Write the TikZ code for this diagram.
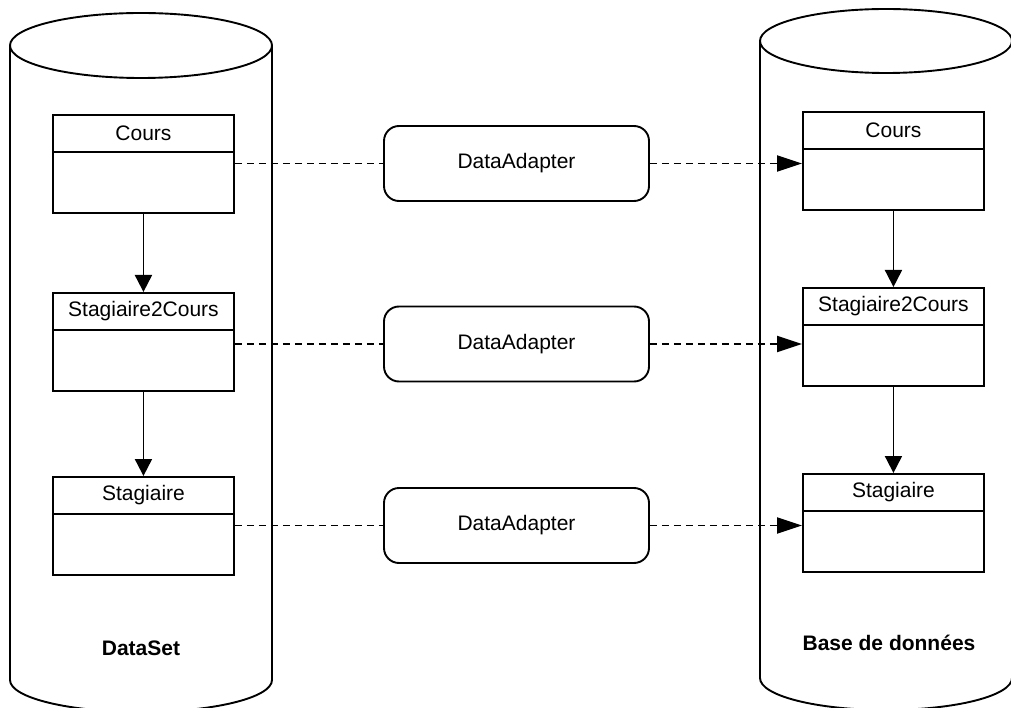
\documentclass[tikz,border=0pt]{standalone}
\usepackage{fontspec}
\setmainfont{Liberation Sans}
\usetikzlibrary{arrows.meta}
\newcommand\lblfont{\fontsize{21}{25}\selectfont}
\begin{document}
\begin{tikzpicture}[x=1pt,y=-1pt,
  tbl/.style={draw, line width=1.9pt, minimum width=181pt, minimum height=98pt, inner sep=0pt, anchor=north west},
  tblhead/.style={minimum width=181pt, minimum height=38pt, inner sep=0pt, anchor=north, font=\lblfont},
  adapter/.style={draw, rounded corners=15pt, line width=1.9pt, minimum width=265pt, minimum height=75pt, font=\lblfont},
  rule/.style={line width=1.9pt},
  link/.style={line width=1.9pt, dash pattern=on 7pt off 5pt},
  flow/.style={line width=1.9pt, -{Triangle[length=17pt,width=17pt]}},
  feed/.style={link, -{Triangle[length=25pt,width=16pt]}},
  store/.style={line width=1.9pt},
  storelabel/.style={font=\bfseries\lblfont}]
\useasboundingbox (0,0) rectangle (1011,708);

% DataSet cylinder
\draw[store] (10,45.5) -- (10,680) arc[start angle=180, end angle=360, x radius=131pt, y radius=32pt] -- (272,45.5);
\draw[store] (141,45.5) ellipse [x radius=131pt, y radius=32.5pt];
% database cylinder
\draw[store] (760,41) -- (760,678) arc[start angle=180, end angle=360, x radius=126pt, y radius=32pt] -- (1012,41);
\draw[store] (886,41) ellipse [x radius=126pt, y radius=32pt];

\node[storelabel] (dslbl) at (141,648) {DataSet};
\node[storelabel] (dblbl) at (889,643) {Base de donn\'ees};

% tables held in the DataSet
\node[tbl] (lc) at (52,114) {};
\node[tblhead] (lch) at (lc.north) {Cours};
\draw[rule] (lch.south west) -- (lch.south east);
\node[tbl] (ls) at (52,292) {};
\node[tblhead] (lsh) at (ls.north) {Stagiaire2Cours};
\draw[rule] (lsh.south west) -- (lsh.south east);
\node[tbl] (lt) at (52,476) {};
\node[tblhead] (lth) at (lt.north) {Stagiaire};
\draw[rule] (lth.south west) -- (lth.south east);

% tables in the database
\node[tbl] (rc) at (802,111) {};
\node[tblhead] (rch) at (rc.north) {Cours};
\draw[rule] (rch.south west) -- (rch.south east);
\node[tbl] (rs) at (802,287) {};
\node[tblhead] (rsh) at (rs.north) {Stagiaire2Cours};
\draw[rule] (rsh.south west) -- (rsh.south east);
\node[tbl] (rt) at (802,473) {};
\node[tblhead] (rth) at (rt.north) {Stagiaire};
\draw[rule] (rth.south west) -- (rth.south east);

% adapters
\node[adapter] (a1) at (516.5,163.5) {DataAdapter};
\node[adapter] (a2) at (516.5,344) {DataAdapter};
\node[adapter] (a3) at (516.5,525.5) {DataAdapter};

% relations between tables
\draw[flow] (lc.south) -- (ls.north);
\draw[flow] (ls.south) -- (lt.north);
\draw[flow] (rc.south) -- (rs.north);
\draw[flow] (rs.south) -- (rt.north);

% adapter links
\draw[link] (lc.east |- a1.west) -- (a1.west);
\draw[feed] (a1.east) -- (rc.west |- a1.east);
\draw[link] (ls.east |- a2.west) -- (a2.west);
\draw[feed] (a2.east) -- (rs.west |- a2.east);
\draw[link] (lt.east |- a3.west) -- (a3.west);
\draw[feed] (a3.east) -- (rt.west |- a3.east);
\end{tikzpicture}
\end{document}
